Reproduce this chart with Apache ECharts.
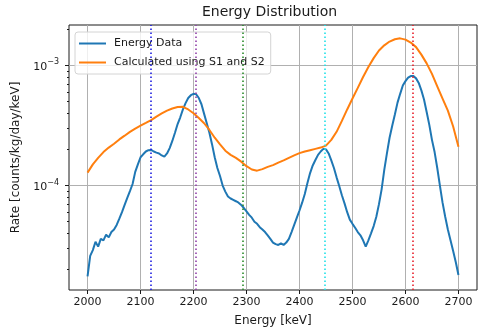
<!DOCTYPE html>
<html>
<head>
<meta charset="utf-8">
<script src="https://cdn.jsdelivr.net/npm/echarts@6/dist/echarts.min.js"></script>
<style>
  html, body { margin: 0; padding: 0; background: #ffffff; }
  #chart { width: 478px; height: 332px; }
</style>
</head>
<body>
<div id="chart"></div>
<script>
// Measured spectrum (5 keV steps)
const dataEnergy = [
  2000, 2005, 2010, 2015, 2020, 2025, 2030, 2035, 2040, 2045,
  2050, 2055, 2060, 2065, 2070, 2075, 2080, 2085, 2090, 2095,
  2100, 2105, 2110, 2115, 2120, 2125, 2130, 2135, 2140, 2145,
  2150, 2155, 2160, 2165, 2170, 2175, 2180, 2185, 2190, 2195,
  2200, 2205, 2210, 2215, 2220, 2225, 2230, 2235, 2240, 2245,
  2250, 2255, 2260, 2265, 2270, 2275, 2280, 2285, 2290, 2295,
  2300, 2305, 2310, 2315, 2320, 2325, 2330, 2335, 2340, 2345,
  2350, 2355, 2360, 2365, 2370, 2375, 2380, 2385, 2390, 2395,
  2400, 2405, 2410, 2415, 2420, 2425, 2430, 2435, 2440, 2445,
  2450, 2455, 2460, 2465, 2470, 2475, 2480, 2485, 2490, 2495,
  2500, 2505, 2510, 2515, 2520, 2525, 2530, 2535, 2540, 2545,
  2550, 2555, 2560, 2565, 2570, 2575, 2580, 2585, 2590, 2595,
  2600, 2605, 2610, 2615, 2620, 2625, 2630, 2635, 2640, 2645,
  2650, 2655, 2660, 2665, 2670, 2675, 2680, 2685, 2690, 2695,
  2700
];
const dataRate = [
  1.75e-5, 2.6e-5, 2.9e-5, 3.4e-5, 3.1e-5, 3.6e-5, 3.5e-5, 3.9e-5, 3.7e-5, 4.1e-5,
  4.3e-5, 4.7e-5, 5.3e-5, 6.0e-5, 6.9e-5, 7.9e-5, 9.0e-5, 1.03e-4, 1.3e-4, 1.5e-4,
  1.72e-4, 1.82e-4, 1.92e-4, 1.97e-4, 1.98e-4, 1.92e-4, 1.88e-4, 1.85e-4, 1.78e-4, 1.74e-4,
  1.85e-4, 2.05e-4, 2.35e-4, 2.75e-4, 3.25e-4, 3.7e-4, 4.3e-4, 4.85e-4, 5.35e-4, 5.65e-4,
  5.8e-4, 5.75e-4, 5.35e-4, 4.75e-4, 3.95e-4, 3.3e-4, 2.75e-4, 2.2e-4, 1.72e-4, 1.4e-4,
  1.2e-4, 1.0e-4, 8.9e-5, 8.1e-5, 7.8e-5, 7.6e-5, 7.4e-5, 7.2e-5, 6.9e-5, 6.5e-5,
  6.1e-5, 5.7e-5, 5.4e-5, 5.0e-5, 4.8e-5, 4.5e-5, 4.3e-5, 4.1e-5, 3.85e-5, 3.6e-5,
  3.35e-5, 3.25e-5, 3.2e-5, 3.3e-5, 3.2e-5, 3.35e-5, 3.6e-5, 4.1e-5, 4.7e-5, 5.4e-5,
  6.2e-5, 7.2e-5, 8.5e-5, 1.05e-4, 1.27e-4, 1.47e-4, 1.63e-4, 1.8e-4, 1.92e-4, 2.02e-4,
  2.0e-4, 1.85e-4, 1.62e-4, 1.4e-4, 1.17e-4, 9.9e-5, 8.3e-5, 7.1e-5, 6.0e-5, 5.2e-5,
  4.8e-5, 4.45e-5, 4.1e-5, 3.85e-5, 3.5e-5, 3.1e-5, 3.5e-5, 4.0e-5, 4.6e-5, 5.5e-5,
  7.0e-5, 9.3e-5, 1.35e-4, 1.85e-4, 2.5e-4, 3.15e-4, 3.9e-4, 4.9e-4, 5.8e-4, 6.8e-4,
  7.4e-4, 7.9e-4, 8.15e-4, 8.15e-4, 7.8e-4, 7.15e-4, 6.2e-4, 5.2e-4, 4.1e-4, 3.2e-4,
  2.4e-4, 1.9e-4, 1.4e-4, 1.0e-4, 7.2e-5, 5.5e-5, 4.3e-5, 3.5e-5, 2.85e-5, 2.3e-5,
  1.8e-5
];

// Spectrum computed from S1 and S2 (10 keV steps)
const calcEnergy = [
  2000, 2010, 2020, 2030, 2040, 2050, 2060, 2070, 2080, 2090,
  2100, 2110, 2120, 2130, 2140, 2150, 2160, 2170, 2180, 2190,
  2200, 2210, 2220, 2230, 2240, 2250, 2260, 2270, 2280, 2290,
  2300, 2310, 2320, 2330, 2340, 2350, 2360, 2370, 2380, 2390,
  2400, 2410, 2420, 2430, 2440, 2450, 2460, 2470, 2480, 2490,
  2500, 2510, 2520, 2530, 2540, 2550, 2560, 2570, 2580, 2590,
  2600, 2610, 2620, 2630, 2640, 2650, 2660, 2670, 2680, 2690,
  2700
];
const calcRate = [
  1.28e-4, 1.5e-4, 1.7e-4, 1.9e-4, 2.07e-4, 2.23e-4, 2.42e-4, 2.6e-4, 2.8e-4, 2.98e-4,
  3.15e-4, 3.32e-4, 3.5e-4, 3.75e-4, 3.98e-4, 4.2e-4, 4.38e-4, 4.5e-4, 4.52e-4, 4.3e-4,
  4.0e-4, 3.65e-4, 3.3e-4, 2.9e-4, 2.5e-4, 2.2e-4, 1.95e-4, 1.8e-4, 1.7e-4, 1.58e-4,
  1.45e-4, 1.36e-4, 1.33e-4, 1.37e-4, 1.43e-4, 1.48e-4, 1.55e-4, 1.62e-4, 1.7e-4, 1.78e-4,
  1.86e-4, 1.92e-4, 1.97e-4, 2.02e-4, 2.07e-4, 2.15e-4, 2.4e-4, 2.8e-4, 3.45e-4, 4.3e-4,
  5.3e-4, 6.5e-4, 8.0e-4, 9.7e-4, 1.15e-3, 1.33e-3, 1.47e-3, 1.58e-3, 1.65e-3, 1.68e-3,
  1.64e-3, 1.55e-3, 1.42e-3, 1.23e-3, 1.04e-3, 8.5e-4, 6.7e-4, 5.3e-4, 4.2e-4, 3.1e-4,
  2.1e-4
];

const seriesNames = ['Energy Data', 'Calculated using S1 and S2'];

// Reference gamma line energies [keV]
const gammaEnergies = [2118.55, 2204.2, 2293.4, 2447.86, 2614.5];

// Axis ticks
const xTicks = [2000, 2100, 2200, 2300, 2400, 2500, 2600, 2700];
const yMajorTicks = [1e-4, 1e-3];
const yMinorTicks = [
  2e-5, 3e-5, 4e-5, 5e-5, 6e-5, 7e-5, 8e-5, 9e-5,
  2e-4, 3e-4, 4e-4, 5e-4, 6e-4, 7e-4, 8e-4, 9e-4,
  2e-3
];

// Axis ranges
const xRange = [1965, 2735];
const yRange = [1.35e-5, 2.17e-3];

const gammaColors = ['#1f1fe0', '#9040a8', '#2a8a2a', '#20e0e8', '#e8202a'];
const FONT = 'DejaVu Sans';

function pairs(xs, ys) {
  return xs.map((x, i) => [x, ys[i]]);
}

function powerLabel(v) {
  const e = Math.round(Math.log10(v));
  return '{b|10}{s|\u2212' + Math.abs(e) + '}';
}

const chart = echarts.init(document.getElementById('chart'), null, { renderer: 'canvas' });

chart.setOption({
  backgroundColor: '#ffffff',
  animation: false,
  textStyle: { fontFamily: FONT },
  title: {
    text: 'Energy Distribution',
    left: 202,
    top: 5,
    padding: 0,
    textStyle: { fontFamily: FONT, fontSize: 14, fontWeight: 'normal', color: '#1a1a1a' }
  },
  grid: {
    left: 69, right: 1, top: 25, bottom: 40,
    show: true, borderColor: '#1a1a1a', borderWidth: 1, backgroundColor: 'transparent'
  },
  legend: {
    orient: 'vertical',
    left: 75, top: 32,
    icon: 'rect',
    itemWidth: 27, itemHeight: 2, itemGap: 6,
    padding: [5, 6, 5, 4],
    backgroundColor: 'rgba(255,255,255,0.8)',
    borderColor: '#d4d4d4', borderWidth: 1, borderRadius: 3,
    textStyle: { fontFamily: FONT, fontSize: 11, color: '#1a1a1a', padding: [0, 0, 0, 3], lineHeight: 13 },
    data: seriesNames
  },
  xAxis: {
    type: 'value',
    min: xRange[0], max: xRange[1],
    splitNumber: 7,
    name: 'Energy [keV]',
    nameLocation: 'middle',
    nameGap: 25,
    nameTextStyle: { fontFamily: FONT, fontSize: 12, color: '#1a1a1a' },
    axisLine: { show: false },
    axisTick: { show: true, length: 4, customValues: xTicks, lineStyle: { color: '#1a1a1a' } },
    axisLabel: {
      customValues: xTicks, margin: 7,
      formatter: v => String(v),
      fontFamily: FONT, fontSize: 11, color: '#1a1a1a'
    },
    splitLine: { show: true, lineStyle: { color: '#b0b0b0', width: 1 } }
  },
  yAxis: [
    {
      type: 'log',
      min: yRange[0], max: yRange[1],
      name: 'Rate [counts/kg/day/keV]',
      nameLocation: 'middle',
      nameGap: 47,
      nameRotate: 90,
      nameTextStyle: { fontFamily: FONT, fontSize: 12, color: '#1a1a1a' },
      axisLine: { show: false },
      axisTick: { show: true, length: 4, customValues: yMajorTicks, lineStyle: { color: '#1a1a1a' } },
      axisLabel: {
        customValues: yMajorTicks, margin: 10,
        formatter: powerLabel,
        rich: {
          b: { fontFamily: FONT, fontSize: 11, color: '#1a1a1a', verticalAlign: 'bottom', lineHeight: 14 },
          s: { fontFamily: FONT, fontSize: 8, color: '#1a1a1a', verticalAlign: 'bottom', lineHeight: 14, padding: [0, 0, 6, 0] }
        }
      },
      splitLine: { show: true, lineStyle: { color: '#b0b0b0', width: 1 } }
    },
    {
      type: 'log',
      min: yRange[0], max: yRange[1],
      position: 'left',
      axisLine: { show: false },
      axisTick: { show: true, length: 2, customValues: yMinorTicks, lineStyle: { color: '#1a1a1a' } },
      axisLabel: { show: false },
      splitLine: { show: false }
    }
  ],
  series: [
    {
      name: seriesNames[0],
      type: 'line',
      data: pairs(dataEnergy, dataRate),
      showSymbol: false,
      symbol: 'none',
      color: '#1f77b4',
      lineStyle: { color: '#1f77b4', width: 2 },
      z: 2
    },
    {
      name: seriesNames[1],
      type: 'line',
      data: pairs(calcEnergy, calcRate),
      showSymbol: false,
      symbol: 'none',
      color: '#ff7f0e',
      lineStyle: { color: '#ff7f0e', width: 2 },
      z: 3,
      markLine: {
        silent: true,
        symbol: ['none', 'none'],
        label: { show: false },
        animation: false,
        data: gammaEnergies.map((e, i) => ({
          xAxis: e,
          lineStyle: { color: gammaColors[i], type: [1.5, 2.5], width: 1.6 }
        }))
      }
    }
  ]
});
</script>
</body>
</html>
